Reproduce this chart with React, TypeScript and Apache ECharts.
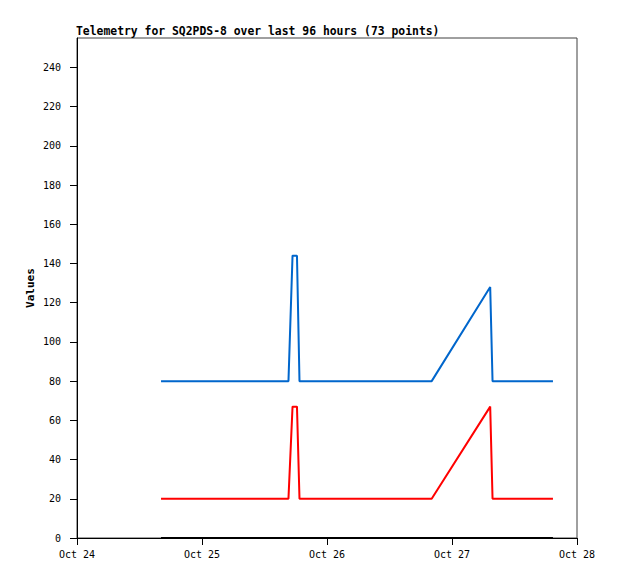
import React, { useEffect, useRef } from "react";
import * as echarts from "echarts";

// ---- data ----
const titleText = "Telemetry for SQ2PDS-8 over last 96 hours (73 points)";
const yAxisName = "Values";
const timestamps = [
  "2023-10-24T16:08:00Z",
  "2023-10-25T16:36:00Z",
  "2023-10-25T17:23:00Z",
  "2023-10-25T18:14:00Z",
  "2023-10-25T18:43:00Z",
  "2023-10-26T20:06:00Z",
  "2023-10-27T07:20:00Z",
  "2023-10-27T07:47:00Z",
  "2023-10-27T19:23:00Z",
];
const seriesBlue = [80, 80, 144, 144, 80, 80, 128, 80, 80];
const seriesRed = [20, 20, 67, 67, 20, 20, 67, 20, 20];
const seriesBlack = [0, 0, 0, 0, 0, 0, 0, 0, 0];
const yTicks = [0, 20, 40, 60, 80, 100, 120, 140, 160, 180, 200, 220, 240];
const xStart = "2023-10-24T00:00:00Z";
const xEnd = "2023-10-28T00:00:00Z";
const monthNames = ["Jan", "Feb", "Mar", "Apr", "May", "Jun", "Jul", "Aug", "Sep", "Oct", "Nov", "Dec"];

const FONT = "'DejaVu Sans Mono', 'Liberation Mono', monospace";

export default function App() {
  const ref = useRef<HTMLDivElement>(null);
  useEffect(() => {
    if (!ref.current) return;
    const chart = echarts.init(ref.current, undefined, { renderer: "svg" });
    const ts = timestamps.map((t) => Date.parse(t));
    const mk = (vals: number[]) => vals.map((v, i) => [ts[i], v]);
    const DAY = 86400000;
    chart.setOption({
      animation: false,
      backgroundColor: "#ffffff",
      title: {
        text: titleText,
        left: 76,
        top: 25,
        padding: 0,
        textStyle: { fontFamily: FONT, fontSize: 11.4, fontWeight: "bold", color: "#000" },
      },
      grid: {
        left: 77,
        top: 38,
        right: 41,
        bottom: 41,
        show: true,
        borderColor: "#404040",
        borderWidth: 1,
        backgroundColor: "transparent",
      },
      xAxis: {
        type: "value",
        min: Date.parse(xStart),
        max: Date.parse(xEnd),
        interval: DAY,
        splitLine: { show: false },
        axisLine: { lineStyle: { color: "#000", width: 1 } },
        axisTick: { length: 7, lineStyle: { color: "#000" } },
        axisLabel: {
          margin: 11,
          fontFamily: FONT,
          fontSize: 10,
          color: "#000",
          formatter: (v: number) => {
            const d = new Date(v);
            return monthNames[d.getUTCMonth()] + " " + d.getUTCDate();
          },
        },
      },
      yAxis: {
        type: "value",
        min: 0,
        max: 255,
        interval: 20,
        name: yAxisName,
        nameLocation: "middle",
        nameGap: 41,
        nameMoveOverlap: false,
        nameTextStyle: { fontFamily: FONT, fontSize: 11, fontWeight: "bold", color: "#000" },
        splitLine: { show: false },
        axisLine: { show: true, lineStyle: { color: "#000", width: 1 } },
        axisTick: { show: true, length: 7, customValues: yTicks, lineStyle: { color: "#000" } },
        axisLabel: {
          margin: 16,
          fontFamily: FONT,
          fontSize: 10,
          color: "#000",
          customValues: yTicks,
        },
      },
      series: [
        {
          name: "Blue",
          type: "line",
          data: mk(seriesBlue),
          showSymbol: false,
          symbol: "none",
          lineStyle: { color: "#0066cc", width: 2 },
          z: 3,
        },
        {
          name: "Red",
          type: "line",
          data: mk(seriesRed),
          showSymbol: false,
          symbol: "none",
          lineStyle: { color: "#ff0000", width: 2 },
          z: 3,
        },
        {
          name: "Black",
          type: "line",
          data: mk(seriesBlack),
          showSymbol: false,
          symbol: "none",
          lineStyle: { color: "#000000", width: 2 },
          z: 3,
        },
      ],
    });
    return () => chart.dispose();
  }, []);
  return <div ref={ref} style={{ width: 618, height: 579, position: "absolute", left: 0, top: 0 }} />;
}
